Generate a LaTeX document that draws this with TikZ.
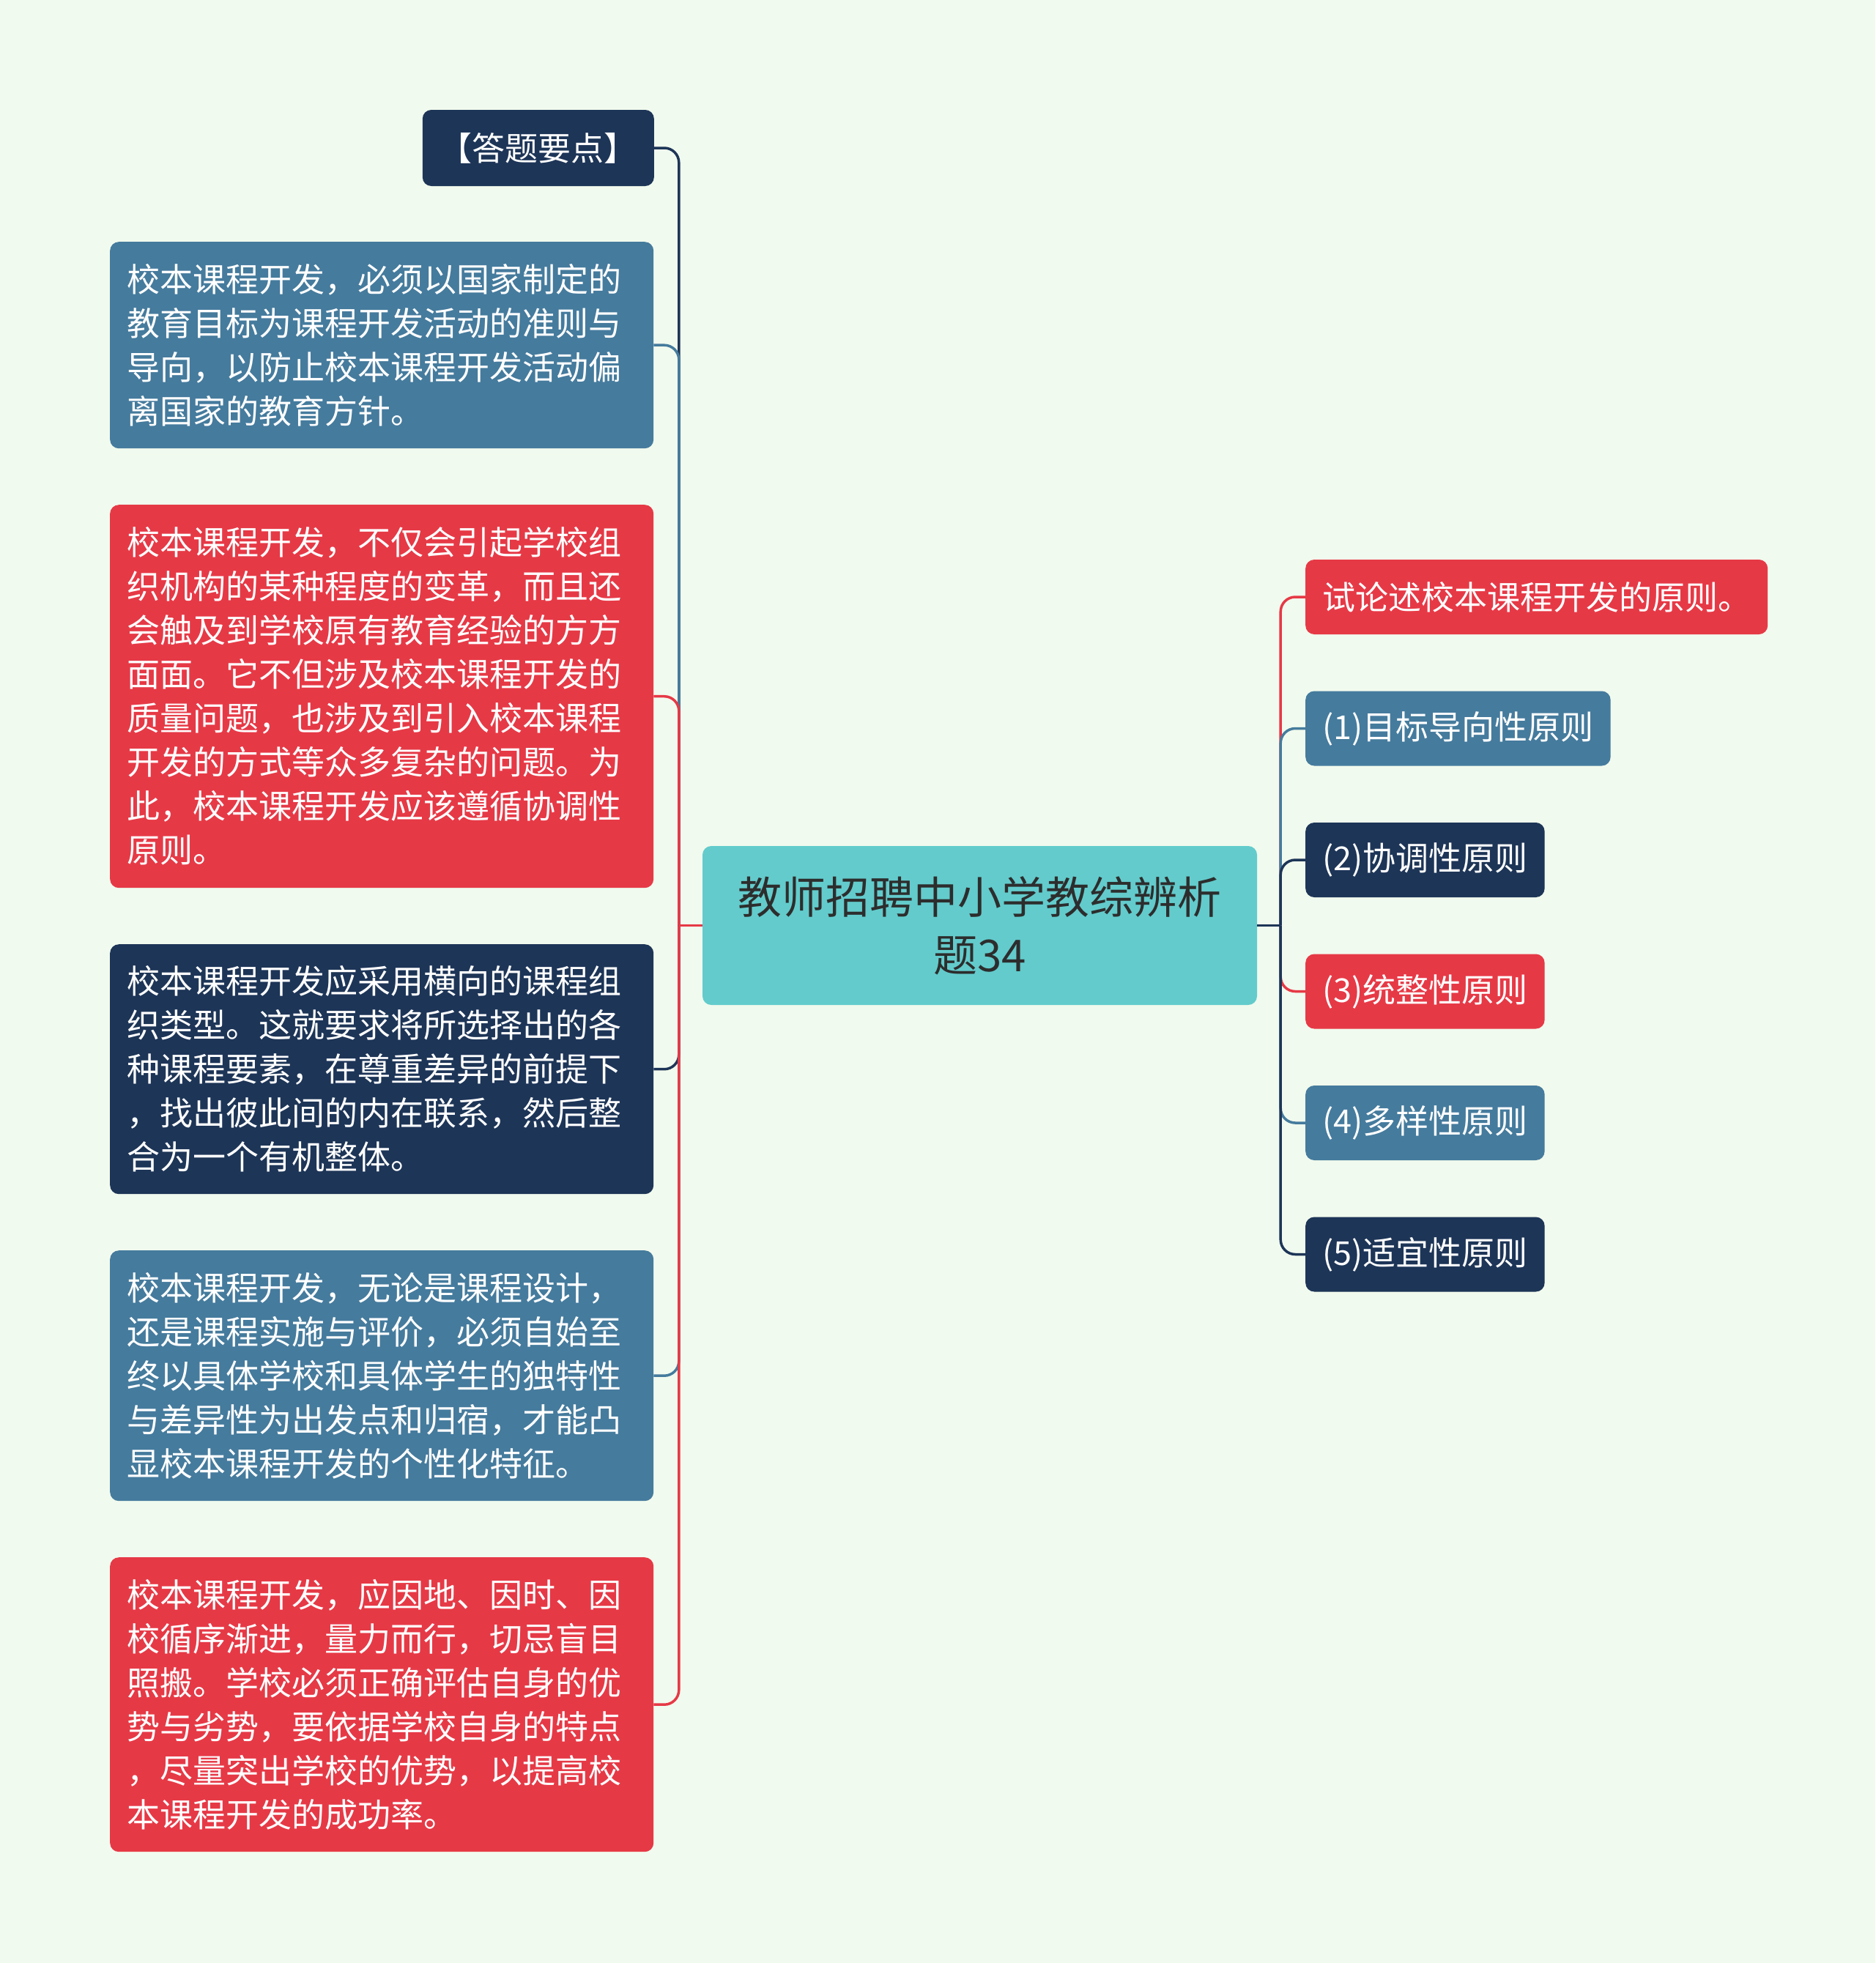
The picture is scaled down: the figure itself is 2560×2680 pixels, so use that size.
\documentclass[tikz,border=0pt]{standalone}
\usepackage{fontspec}
\newfontfamily\cjk{Noto Sans CJK SC}
\definecolor{bg}{HTML}{F1FAEE}
\definecolor{navyc}{HTML}{1D3557}
\definecolor{bluec}{HTML}{457B9D}
\definecolor{redc}{HTML}{E63946}
\definecolor{tealc}{HTML}{63CBCC}
\definecolor{darktext}{HTML}{2D2D2D}
\tikzset{
  boxbase/.style={rounded corners=12pt, text=white, inner xsep=23pt, inner ysep=0pt,
    font=\cjk\fontsize{45}{60}\selectfont},
  ltext/.style={text width=696pt, align=left},
  conn/.style={line width=3.5pt, rounded corners=20pt},
}
\begin{document}
\begin{tikzpicture}[x=1pt,y=-1pt]
\fill[bg] (0,0) rectangle (2560,2680);
\useasboundingbox (0,0) rectangle (2560,2680);

% center
\node[rounded corners=12pt, fill=tealc, text=darktext, minimum width=757pt, minimum height=217pt,
  align=center, inner sep=0pt, font=\cjk\fontsize{60}{79}\selectfont] (c) at (1337.5,1263.5)
  {教师招聘中小学教综辨析\\题34};
\coordinate (tjL) at ([xshift=-32pt]c.west);
\coordinate (tjR) at ([xshift=32pt]c.east);

% left nodes
\node[boxbase, fill=navyc, anchor=east, minimum height=104pt] (b1) at (893,202) {【答题要点】};
\node[boxbase, ltext, fill=bluec, anchor=north west, minimum height=282pt] (b2) at (150,330)
  {校本课程开发，必须以国家制定的\\教育目标为课程开发活动的准则与\\导向，以防止校本课程开发活动偏\\离国家的教育方针。};
\node[boxbase, ltext, fill=redc, anchor=north west, minimum height=523pt] (b3) at (150,689)
  {校本课程开发，不仅会引起学校组\\织机构的某种程度的变革，而且还\\会触及到学校原有教育经验的方方\\面面。它不但涉及校本课程开发的\\质量问题，也涉及到引入校本课程\\开发的方式等众多复杂的问题。为\\此，校本课程开发应该遵循协调性\\原则。};
\node[boxbase, ltext, fill=navyc, anchor=north west, minimum height=341pt] (b4) at (150,1289)
  {校本课程开发应采用横向的课程组\\织类型。这就要求将所选择出的各\\种课程要素，在尊重差异的前提下\\，找出彼此间的内在联系，然后整\\合为一个有机整体。};
\node[boxbase, ltext, fill=bluec, anchor=north west, minimum height=342pt] (b5) at (150,1707)
  {校本课程开发，无论是课程设计，\\还是课程实施与评价，必须自始至\\终以具体学校和具体学生的独特性\\与差异性为出发点和归宿，才能凸\\显校本课程开发的个性化特征。};
\node[boxbase, ltext, fill=redc, anchor=north west, minimum height=402pt] (b6) at (150,2126)
  {校本课程开发，应因地、因时、因\\校循序渐进，量力而行，切忌盲目\\照搬。学校必须正确评估自身的优\\势与劣势，要依据学校自身的特点\\，尽量突出学校的优势，以提高校\\本课程开发的成功率。};

% right nodes
\node[boxbase, fill=redc, anchor=west, minimum height=102pt] (r0) at (1782,815) {试论述校本课程开发的原则。};
\node[boxbase, fill=bluec, anchor=west, minimum height=102pt] (r1) at (1782,994.5) {(1)目标导向性原则};
\node[boxbase, fill=navyc, anchor=west, minimum height=102pt] (r2) at (1782,1174) {(2)协调性原则};
\node[boxbase, fill=redc, anchor=west, minimum height=102pt] (r3) at (1782,1353.5) {(3)统整性原则};
\node[boxbase, fill=bluec, anchor=west, minimum height=102pt] (r4) at (1782,1533) {(4)多样性原则};
\node[boxbase, fill=navyc, anchor=west, minimum height=102pt] (r5) at (1782,1712.5) {(5)适宜性原则};

% left connectors
\draw[conn, navyc] (tjL) |- (b1.east);
\draw[conn, bluec] (tjL) |- (b2.east);
\draw[conn, redc] (tjL) |- (b3.east);
\draw[conn, navyc] (tjL) |- (b4.east);
\draw[conn, bluec] (tjL) |- (b5.east);
\draw[conn, redc] (tjL) |- (b6.east);
\draw[line width=3.5pt, redc] (c.west) -- (tjL);

% right connectors
\draw[conn, redc] (tjR) |- (r0.west);
\draw[conn, bluec] (tjR) |- (r1.west);
\draw[conn, navyc] (tjR) |- (r2.west);
\draw[conn, redc] (tjR) |- (r3.west);
\draw[conn, bluec] (tjR) |- (r4.west);
\draw[conn, navyc] (tjR) |- (r5.west);
\draw[line width=3.5pt, navyc] (c.east) -- (tjR);
\end{tikzpicture}
\end{document}
